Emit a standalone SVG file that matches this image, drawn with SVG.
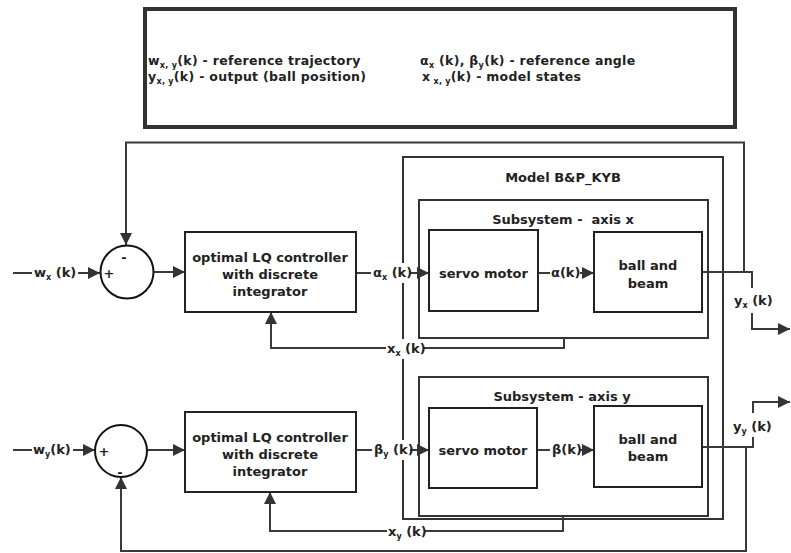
<svg xmlns="http://www.w3.org/2000/svg" width="791" height="553" viewBox="0 0 791 553">
<style>
text{font-family:"DejaVu Sans","Verdana",sans-serif;font-weight:bold;font-size:13px;fill:#222}
.c{text-anchor:middle}
.s{font-size:8px}
.lg{font-size:12.5px;letter-spacing:0.3px}
.box{fill:#fff;stroke:#222;stroke-width:2}
.frame{fill:none;stroke:#333;stroke-width:2}
.ln{fill:none;stroke:#3a3a3a;stroke-width:2}
.arr{fill:none;stroke:#3a3a3a;stroke-width:2;marker-end:url(#ah)}
.bg{fill:#fff}
</style>
<defs>
<marker id="ah" viewBox="0 0 10 10" refX="10" refY="5" markerUnits="userSpaceOnUse" markerWidth="14" markerHeight="12" orient="auto">
<path d="M0,0 L10,5 L0,10 z" fill="#333"/>
</marker>
</defs>
<rect width="791" height="553" fill="#fff"/>

<g id="legend">
<rect x="145" y="9" width="590" height="118" fill="#fff" stroke="#333" stroke-width="4"/>
<text class="lg" x="148" y="65">w<tspan class="s" dy="3">x, y</tspan><tspan dy="-3">(k) - reference trajectory</tspan></text>
<text class="lg" x="148" y="80.5">y<tspan class="s" dy="3">x, y</tspan><tspan dy="-3">(k) - output (ball position)</tspan></text>
<text class="lg" x="420" y="65">α<tspan class="s" dy="3">x</tspan><tspan dy="-3"> (k), β</tspan><tspan class="s" dy="3">y</tspan><tspan dy="-3">(k) - reference angle</tspan></text>
<text class="lg" x="422" y="80.5">x<tspan class="s" dy="3"> x, y</tspan><tspan dy="-3">(k) - model states</tspan></text>
</g>

<g id="model">
<rect class="frame" x="403" y="157" width="320" height="362"/>
<text class="c" x="563" y="182">Model B&amp;P_KYB</text>
</g>

<g id="subsystem-x">
<rect class="frame" x="419" y="200" width="289" height="138"/>
<text class="c" x="563" y="224" xml:space="preserve">Subsystem -  axis x</text>
</g>

<g id="subsystem-y">
<rect class="frame" x="419" y="377" width="289" height="139"/>
<text class="c" x="562" y="401">Subsystem - axis y</text>
</g>

<g id="connectors">
<polyline class="ln" points="13,273 32,273"/>
<polyline class="arr" points="78,273 100,273"/>
<polyline class="arr" points="153,272 185,272"/>
<polyline class="ln" points="356,273 371,273"/>
<polyline class="arr" points="410,273 429,273"/>
<polyline class="ln" points="538,273 550,273"/>
<polyline class="arr" points="580,273 594,273"/>
<polyline class="ln" points="702,272 752,272 752,288"/>
<polyline class="arr" points="752,313 752,329 790,329"/>
<polyline class="arr" points="744,272 744,142.5 126,142.5 126,245"/>
<polyline class="ln" points="564,338 564,348 424,348"/>
<polyline class="arr" points="386,348 271,348 271,312"/>
<polyline class="ln" points="13,450 32,450"/>
<polyline class="arr" points="73,450 95,450"/>
<polyline class="arr" points="147,450 185,450"/>
<polyline class="ln" points="356,450 372,450"/>
<polyline class="arr" points="410,450 429,450"/>
<polyline class="ln" points="537,450 550,450"/>
<polyline class="arr" points="580,450 594,450"/>
<polyline class="ln" points="702,447 753,447 753,437"/>
<polyline class="arr" points="753,413 753,402 790,402"/>
<polyline class="arr" points="746,447 746,551 121,551 121,477"/>
<polyline class="ln" points="563,516 563,531 424,531"/>
<polyline class="arr" points="387,531 270,531 270,492"/>
</g>

<g id="labels">
<text x="34" y="277">w<tspan class="s" dy="3">x</tspan><tspan dy="-3"> (k)</tspan></text>
<text x="33" y="454">w<tspan class="s" dy="3">y</tspan><tspan dy="-3">(k)</tspan></text>
<rect class="bg" x="372" y="263" width="37" height="20"/>
<text x="373" y="277">α<tspan class="s" dy="3">x</tspan><tspan dy="-3"> (k)</tspan></text>
<rect class="bg" x="373" y="440" width="36" height="20"/>
<text x="374" y="454">β<tspan class="s" dy="3">y</tspan><tspan dy="-3"> (k)</tspan></text>
<text x="551" y="277">α(k)</text>
<text x="552" y="454">β(k)</text>
<rect class="bg" x="386" y="339" width="37" height="20"/>
<text x="387" y="353">x<tspan class="s" dy="3">x</tspan><tspan dy="-3"> (k)</tspan></text>
<text x="388" y="536">x<tspan class="s" dy="3">y</tspan><tspan dy="-3"> (k)</tspan></text>
<text x="734" y="305">y<tspan class="s" dy="3">x</tspan><tspan dy="-3"> (k)</tspan></text>
<text x="733" y="431">y<tspan class="s" dy="3">y</tspan><tspan dy="-3"> (k)</tspan></text>
</g>

<g id="sum-x">
<circle cx="127" cy="272" r="26.5" fill="#fff" stroke="#111" stroke-width="2"/>
<text class="c" x="124" y="262">-</text>
<text class="c" x="109" y="278">+</text>
</g>

<g id="sum-y">
<circle cx="121" cy="451" r="26" fill="#fff" stroke="#111" stroke-width="2"/>
<text class="c" x="104" y="456">+</text>
<text class="c" x="120" y="477">-</text>
</g>

<g id="controller-x">
<rect class="box" x="185" y="232" width="171" height="80"/>
<text class="c" x="270" y="261.5">optimal LQ controller</text>
<text class="c" x="270" y="278.5">with discrete</text>
<text class="c" x="270" y="296">integrator</text>
</g>

<g id="controller-y">
<rect class="box" x="185" y="412" width="171" height="80"/>
<text class="c" x="270" y="441.5">optimal LQ controller</text>
<text class="c" x="270" y="458.5">with discrete</text>
<text class="c" x="270" y="476">integrator</text>
</g>

<g id="servo-x">
<rect class="box" x="429" y="230" width="109" height="81"/>
<text class="c" x="483.5" y="277.5">servo motor</text>
</g>

<g id="ball-x">
<rect class="box" x="594" y="232" width="108" height="80"/>
<text class="c" x="648" y="270">ball and</text>
<text class="c" x="648" y="287.5">beam</text>
</g>

<g id="servo-y">
<rect class="box" x="429" y="408" width="108" height="80"/>
<text class="c" x="483" y="454.5">servo motor</text>
</g>

<g id="ball-y">
<rect class="box" x="594" y="406" width="108" height="81"/>
<text class="c" x="648" y="443.5">ball and</text>
<text class="c" x="648" y="461">beam</text>
</g>
</svg>
